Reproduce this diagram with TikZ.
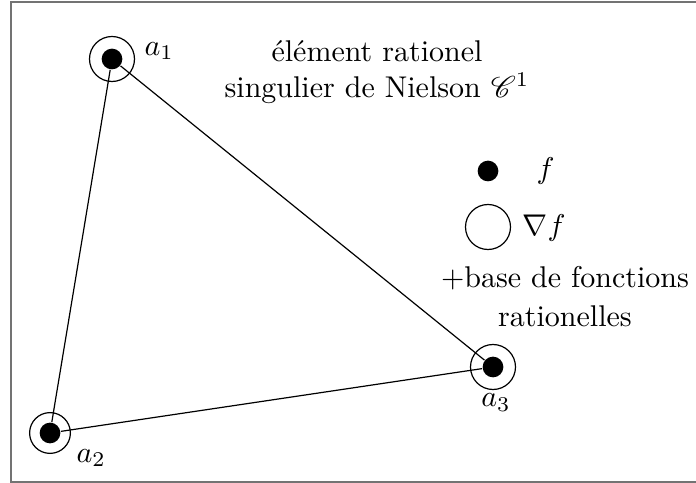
\documentclass[tikz,border=0pt]{standalone}
\usepackage{amsmath,amssymb}
\usepackage{mathrsfs}
\usetikzlibrary{positioning}

\tikzset{
  ptdot/.style={circle, fill=black, inner sep=0pt, minimum size=6.9pt},
  gradring/.style={circle, draw, thin, inner sep=0pt, minimum size=15pt},
  edge/.style={thin},
}

\begin{document}
\begin{tikzpicture}[x=0.3333pt, y=-0.3333pt]

\useasboundingbox (0,0) rectangle (696,483);

% Frame
\draw[black!55, line width=0.6pt] (11,2) rectangle (702,482);

% --- Vertices of the triangle ---
\node[gradring] (r1) at (112,59) {};
\node[ptdot] (a1) at (112,59) {};
\node[gradring, minimum size=13.6pt] (r2) at (50,433) {};
\node[ptdot] (a2) at (50,433) {};
\node[gradring] (r3) at (493,367) {};
\node[ptdot] (a3) at (493,367) {};

% edges
\draw[edge] (a1) -- (a2);
\draw[edge] (a2) -- (a3);
\draw[edge] (a3) -- (a1);

% vertex labels
\node[anchor=west] (l1) at (134,51) {$a_1$};
\node[anchor=west] (l2) at (66,458) {$a_2$};
\node[anchor=north] (l3) at (496,383) {$a_3$};

% Title
\node[align=center] (title) at (377,72) {élément rationel\\singulier de Nielson $\mathscr{C}^1$};

% --- Legend ---
\node[ptdot] (kdot) at (488,171) {};
\node[anchor=west] (kf) at (526,171) {$f$};
\node[gradring] (kring) at (488,227) {};
\node[anchor=west] (kgrad) at (512,228) {$\nabla f$};
\node[align=center] (kbase) at (565,297) {+base de fonctions\\[1pt]rationelles};

\end{tikzpicture}
\end{document}
